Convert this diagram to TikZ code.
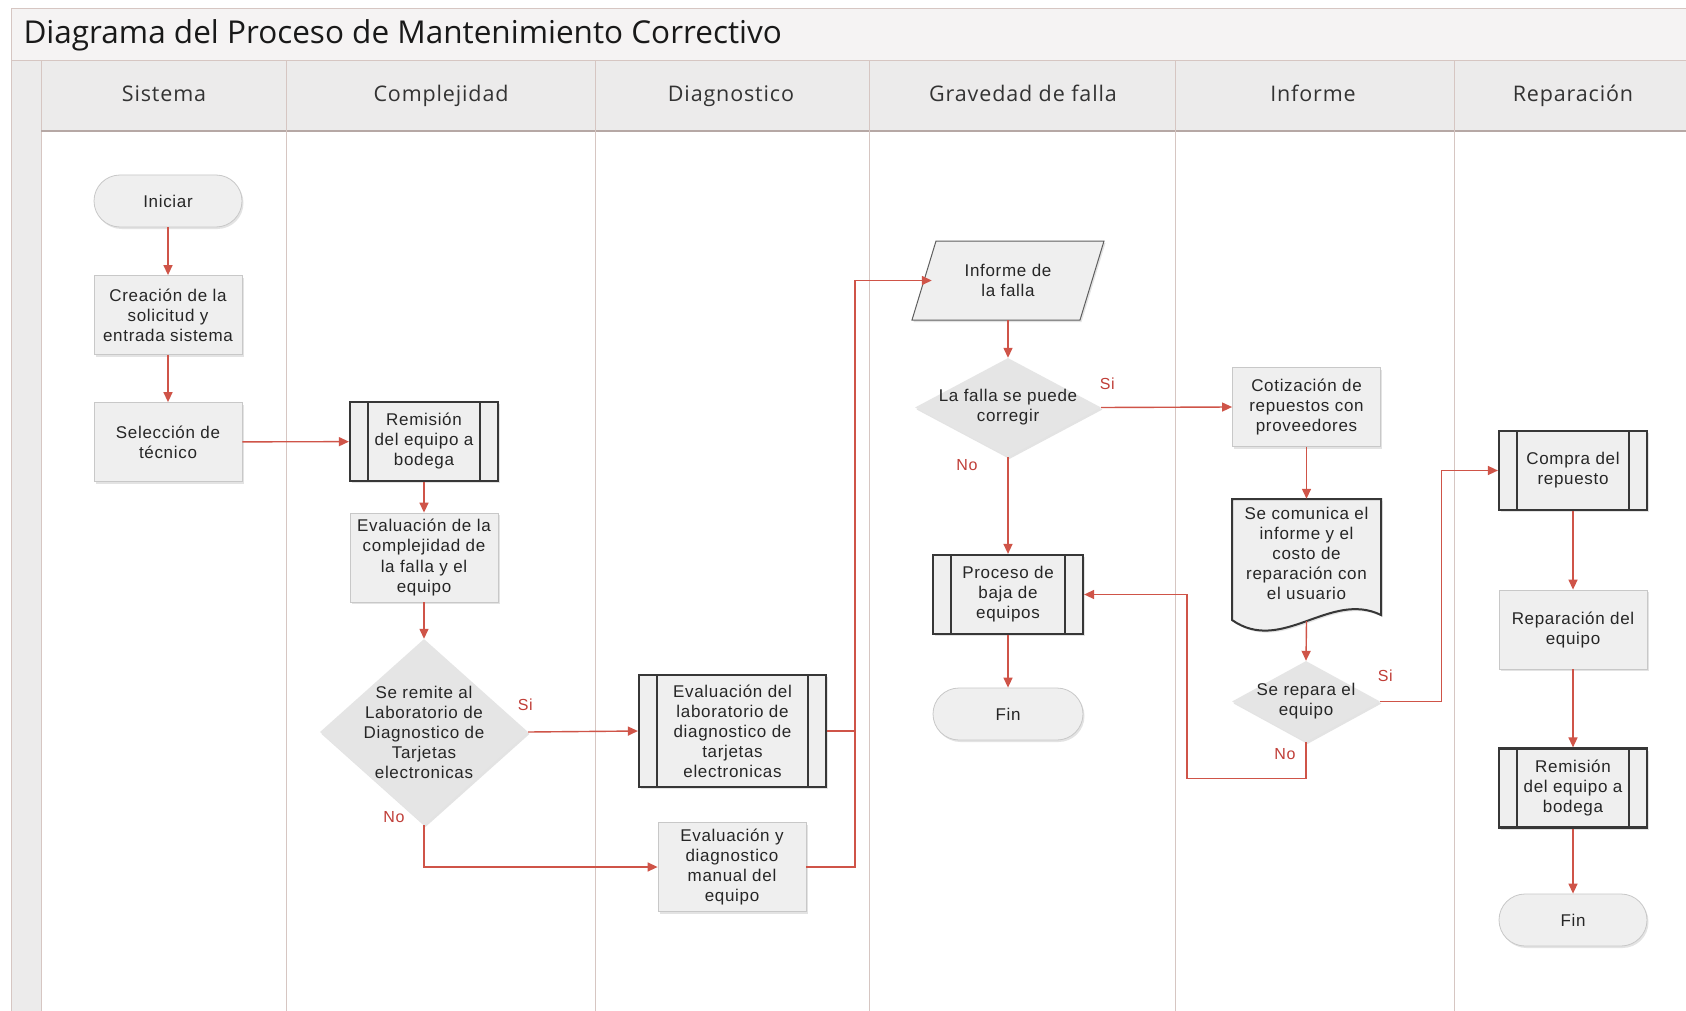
\documentclass[tikz,border=0pt]{standalone}
\usepackage{fontspec}
\setmainfont{Liberation Sans}[LetterSpace=4]
\newfontfamily\headfont{Open Sans}[LetterSpace=4]
\newfontfamily\titlefont{Open Sans}
\usetikzlibrary{arrows.meta,shapes.geometric,shadows,positioning}

\definecolor{flecha}{RGB}{207,84,72}
\definecolor{etiq}{RGB}{192,62,56}
\definecolor{caja}{RGB}{239,239,239}
\definecolor{borde}{RGB}{200,200,200}
\definecolor{oscuro}{RGB}{55,55,55}
\definecolor{carril}{RGB}{214,198,194}
\definecolor{cabeza}{RGB}{236,235,235}
\definecolor{titulo}{RGB}{245,243,243}

\tikzset{
  texto/.style={font=\fontsize{17}{20}\selectfont, text=black!85, align=center, inner sep=0pt},
  sombra/.style={drop shadow={shadow xshift=1.5pt, shadow yshift=-2pt, opacity=0.22}},
  proceso/.style={texto, sombra, draw=borde, line width=0.8pt, fill=caja,
    minimum width=148pt, minimum height=79pt},
  subproc/.style={proceso, draw=oscuro, line width=2.2pt,
    path picture={\draw[oscuro, line width=2pt]
      ([xshift=18pt]path picture bounding box.north west) -- ([xshift=18pt]path picture bounding box.south west)
      ([xshift=-18pt]path picture bounding box.north east) -- ([xshift=-18pt]path picture bounding box.south east);}},
  terminal/.style={proceso, minimum height=52pt, rounded corners=26pt},
  decision/.style={shape=diamond, sombra, draw=none, fill=caja!96!black, inner sep=0pt},
  flujo/.style={draw=flecha, line width=1.4pt, -{Triangle[length=10pt,width=9pt]}},
  rotulo/.style={text=etiq, font=\fontsize{16}{18}\selectfont, inner sep=0pt},
  cabecera/.style={font=\headfont\fontsize{21.5}{24}\selectfont, text=black!80, anchor=base}
}

\begin{document}
\begin{tikzpicture}[x=1pt, y=-1pt]
\useasboundingbox (0,0) rectangle (1686,1011);
\clip (0,0) rectangle (1686,1011);
\fill[white] (0,0) rectangle (1686,1011);
%lanes
\filldraw[fill=titulo, draw=carril, line width=1pt] (11,9) rectangle (1710,61);
\node[anchor=base west, font=\titlefont\fontsize{31.5}{36}\selectfont, text=black!90] (titulo) at (20,44)
  {Diagrama del Proceso de Mantenimiento Correctivo};
\filldraw[fill=cabeza, draw=carril, line width=1pt] (41,61) rectangle (1710,131);
\filldraw[fill=cabeza, draw=carril, line width=1pt] (11,61) rectangle (41,1030);
\draw[carril!85!black, line width=1.5pt] (41,131) -- (1710,131);
\foreach \x in {286,595,869,1175,1454}
  \draw[carril, line width=1pt] (\x,61) -- (\x,1030);
\foreach \x/\nombre [count=\i] in {164/Sistema, 441/Complejidad, 731/Diagnostico,
    1023/Gravedad de falla, 1313/Informe, 1573/Reparación}
  \node[cabecera] (col\i) at (\x,102) {\nombre};

%Sistema
\node[terminal] (iniciar) at (168,201) {Iniciar};
\node[proceso] (creacion) at (168,315) {Creación de la\\solicitud y\\entrada sistema};
\node[proceso] (seleccion) at (168,442) {Selección de\\técnico};

%Complejidad
\node[subproc] (remision) at (424,441.5) {Remisión\\del equipo a\\bodega};
\node[proceso, minimum height=89pt] (evalcomp) at (424,557.5)
  {Evaluación de la\\complejidad de\\la falla y el\\equipo};
\node[decision, minimum width=208pt, minimum height=186pt,
  label={[texto]center:{Se remite al\\Laboratorio de\\Diagnostico de\\Tarjetas\\electronicas}}]
  (remite) at (424,732) {};

%Diagnostico
\node[subproc, minimum width=187pt, minimum height=112pt] (evallab) at (732.5,731)
  {Evaluación del\\laboratorio de\\diagnostico de\\tarjetas\\electronicas};
\node[proceso, minimum height=89pt] (evalman) at (732,867)
  {Evaluación y\\diagnostico\\manual del\\equipo};
\coordinate (union) at (855,731);

%Gravedad de falla
\filldraw[fill=caja, draw=oscuro!80, line width=1pt, sombra]
  (912,320) -- (936,241) -- (1104,241) -- (1080,320) -- cycle;
\node[texto, minimum width=152pt, minimum height=79pt] (informe) at (1008,280.5) {Informe de\\la falla};
\node[decision, minimum width=186pt, minimum height=99pt,
  label={[texto]center:{La falla se puede\\corregir}}] (corregir) at (1008,407.5) {};
\node[subproc, minimum width=150pt] (baja) at (1008,594.5) {Proceso de\\baja de\\equipos};
\node[terminal, minimum width=150pt] (fin1) at (1008,714) {Fin};

%Informe
\node[proceso] (cotiz) at (1306.5,407) {Cotización de\\repuestos con\\proveedores};
\filldraw[fill=caja, draw=oscuro, line width=2pt, sombra]
  (1232,620) -- (1232,499) -- (1381,499) -- (1381,615)
  .. controls (1330,590) and (1282,655) .. (1232,620) -- cycle;
\node[texto, minimum width=149pt, minimum height=122pt,
  label={[texto, yshift=7pt]center:{Se comunica el\\informe y el\\costo de\\reparación con\\el usuario}}]
  (comunica) at (1306.5,560) {};
\node[decision, minimum width=148pt, minimum height=81pt,
  label={[texto]center:{Se repara el\\equipo}}] (repara) at (1306,701.5) {};
\coordinate (vuelta) at (1187,778.5);

%Reparacion
\node[subproc] (compra) at (1573,470.5) {Compra del\\repuesto};
\node[proceso] (reparacion) at (1573,629.5) {Reparación del\\equipo};
\node[subproc] (remision2) at (1573,788) {Remisión\\del equipo a\\bodega};
\node[terminal] (fin2) at (1573,920) {Fin};

%flechas
\draw[flujo] (iniciar) -- (creacion);
\draw[flujo] (creacion) -- (seleccion);
\draw[flujo] (seleccion) -- (remision);
\draw[flujo] (remision) -- (evalcomp);
\draw[flujo] (evalcomp) -- (remite);
\draw[flujo] (remite.east) -- node[rotulo, at start, xshift=-3pt, yshift=27pt] {Si} (evallab.west);
\draw[flujo] (remite.south) |- node[rotulo, at start, xshift=-30pt, yshift=8pt] {No} (evalman.west);
\draw[flujo] (evallab.east) -- (union) |- (informe.west);
\draw[draw=flecha, line width=1.4pt] (evalman.east) -| (union);
\draw[flujo] (informe) -- (corregir);
\draw[flujo] (corregir.east) -- node[rotulo, at start, xshift=6pt, yshift=24pt] {Si} (cotiz.west);
\draw[flujo] (corregir.south) -- node[rotulo, at start, xshift=-41pt, yshift=-8pt] {No} (baja.north);
\draw[flujo] (baja) -- (fin1);
\draw[flujo] (cotiz) -- (comunica);
\draw[flujo] (comunica.south) -- (repara.north);
\draw[flujo] (repara.east) -- node[rotulo, at start, xshift=5pt, yshift=26pt] {Si} ++(61,0) |- (compra.west);
\draw[flujo] (repara.south) |- node[rotulo, at start, xshift=-21pt, yshift=-12pt] {No} (vuelta) |- (baja.east);
\draw[flujo] (compra) -- (reparacion);
\draw[flujo] (reparacion) -- (remision2);
\draw[flujo] (remision2) -- (fin2);
\end{tikzpicture}
\end{document}
